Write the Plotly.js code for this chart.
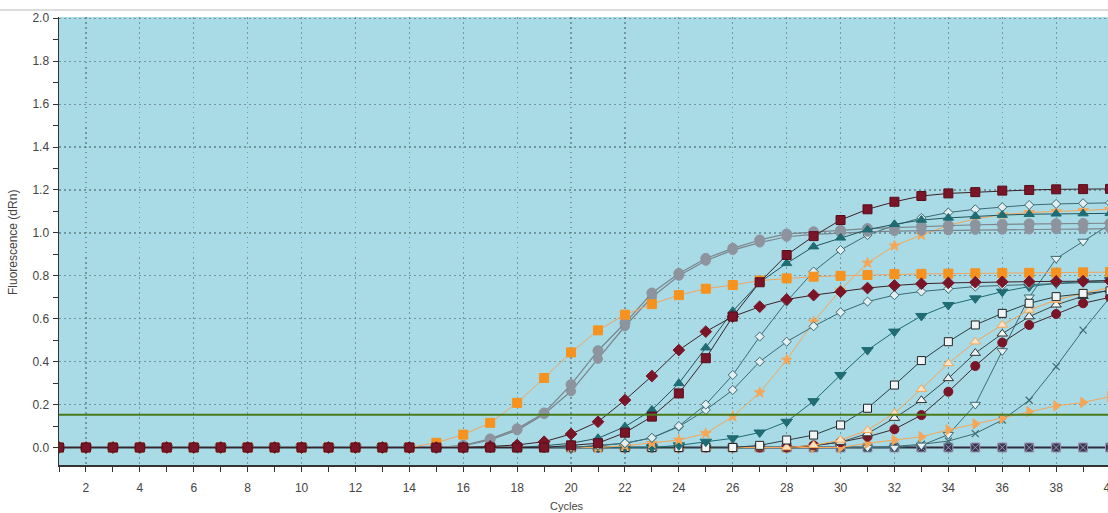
<!DOCTYPE html>
<html>
<head>
<meta charset="utf-8">
<script src="https://cdn.plot.ly/plotly-3.0.1.min.js"></script>
<style>
  html, body { margin: 0; padding: 0; overflow: hidden; background: #ffffff; }
  #chart { width: 1140px; height: 513px; }
</style>
</head>
<body>
<div id="chart"></div>
<script>
// ---- data ----
const cycles = [1,2,3,4,5,6,7,8,9,10,11,12,13,14,15,16,17,18,19,20,21,22,23,24,25,26,27,28,29,30,31,32,33,34,35,36,37,38,39,40];

const ntc         = [0,0,0,0,0,0,0,0,0,0,0,0,0,0,0,0,0,0,0,0,0,0,0,0,0,0,0,0,0,0,0,0,0,0,0,0,0,0,0,0];
const orangeSq    = [0,0,0,0,0,0,0,0,0,0,0,0,0,0,0.022,0.06,0.115,0.208,0.324,0.443,0.546,0.619,0.668,0.71,0.74,0.757,0.778,0.788,0.796,0.8,0.804,0.808,0.809,0.81,0.812,0.813,0.814,0.815,0.816,0.817];
const grayA       = [0,0,0,0,0,0,0,0,0,0,0,0,0,0,0,0.01,0.04,0.087,0.161,0.293,0.451,0.58,0.72,0.811,0.881,0.928,0.967,0.995,1.005,1.012,1.02,1.025,1.03,1.035,1.038,1.04,1.042,1.043,1.044,1.045];
const grayB       = [0,0,0,0,0,0,0,0,0,0,0,0,0,0,0,0.008,0.035,0.08,0.155,0.262,0.413,0.565,0.70,0.8,0.87,0.92,0.955,0.982,0.993,1.0,1.005,1.008,1.01,1.012,1.014,1.015,1.016,1.017,1.018,1.02];
const redDiamond  = [0,0,0,0,0,0,0,0,0,0,0,0,0,0,0,0,0.005,0.012,0.027,0.063,0.12,0.221,0.333,0.454,0.54,0.61,0.656,0.69,0.71,0.726,0.743,0.755,0.763,0.767,0.77,0.772,0.773,0.774,0.775,0.776];
const tealUp      = [0,0,0,0,0,0,0,0,0,0,0,0,0,0,0,0,0,0,0.008,0.02,0.043,0.097,0.175,0.299,0.465,0.635,0.77,0.858,0.936,0.977,1.015,1.04,1.06,1.07,1.078,1.083,1.087,1.089,1.09,1.091];
const redSquare   = [0,0,0,0,0,0,0,0,0,0,0,0,0,0,0,0,0,0,0,0.01,0.02,0.069,0.144,0.252,0.416,0.61,0.77,0.897,0.985,1.06,1.11,1.145,1.172,1.184,1.19,1.197,1.2,1.203,1.204,1.205];
const openDiaA    = [0,0,0,0,0,0,0,0,0,0,0,0,0,0,0,0,0,0,0,0,0.01,0.02,0.045,0.1,0.2,0.338,0.517,0.68,0.82,0.92,0.99,1.035,1.07,1.095,1.11,1.12,1.13,1.135,1.138,1.14];
const openDiaB    = [0,0,0,0,0,0,0,0,0,0,0,0,0,0,0,0,0,0,0,0,0.008,0.02,0.045,0.097,0.175,0.268,0.4,0.493,0.565,0.63,0.68,0.71,0.727,0.74,0.75,0.755,0.76,0.765,0.768,0.77];
const orangeStar  = [0,0,0,0,0,0,0,0,0,0,0,0,0,0,0,0,0,0,0,0,0,0.008,0.02,0.035,0.066,0.144,0.256,0.408,0.586,0.734,0.86,0.94,0.99,1.035,1.065,1.085,1.095,1.1,1.105,1.11];
const tealDown    = [0,0,0,0,0,0,0,0,0,0,0,0,0,0,0,0,0,0,0,0,0,0,0,0.01,0.027,0.043,0.07,0.12,0.216,0.338,0.454,0.54,0.613,0.664,0.695,0.726,0.75,0.765,0.773,0.78];
const openSquare  = [0,0,0,0,0,0,0,0,0,0,0,0,0,0,0,0,0,0,0,0,0,0,0,0,0,0,0.01,0.035,0.058,0.105,0.183,0.291,0.405,0.493,0.571,0.625,0.672,0.703,0.718,0.73];
const orangeTri   = [0,0,0,0,0,0,0,0,0,0,0,0,0,0,0,0,0,0,0,0,0,0,0,0,0,0,0,0,0.01,0.035,0.08,0.16,0.272,0.392,0.493,0.571,0.641,0.687,0.72,0.745];
const darkTri     = [0,0,0,0,0,0,0,0,0,0,0,0,0,0,0,0,0,0,0,0,0,0,0,0,0,0,0,0,0.008,0.025,0.065,0.137,0.22,0.322,0.44,0.53,0.61,0.665,0.705,0.735];
const redCircle   = [0,0,0,0,0,0,0,0,0,0,0,0,0,0,0,0,0,0,0,0,0,0,0,0,0,0,0,0,0.01,0.025,0.05,0.085,0.151,0.26,0.38,0.489,0.571,0.622,0.672,0.70];
const orangeRight = [0,0,0,0,0,0,0,0,0,0,0,0,0,0,0,0,0,0,0,0,0,0,0,0,0,0,0,0,0,0,0.02,0.035,0.05,0.082,0.11,0.136,0.167,0.194,0.21,0.237];
const crossX      = [0,0,0,0,0,0,0,0,0,0,0,0,0,0,0,0,0,0,0,0,0,0,0,0,0,0,0,0,0,0,0,0.005,0.015,0.03,0.065,0.128,0.22,0.377,0.547,0.70];
const openDown    = [0,0,0,0,0,0,0,0,0,0,0,0,0,0,0,0,0,0,0,0,0,0,0,0,0,0,0,0,0,0,0,0,0.01,0.06,0.2,0.45,0.7,0.88,0.96,1.04];

const threshold = 0.153;
const xTickVals = [2,4,6,8,10,12,14,16,18,20,22,24,26,28,30,32,34,36,38,40];
const yTickVals = [0.0,0.2,0.4,0.6,0.8,1.0,1.2,1.4,1.6,1.8,2.0];

// ---- styles ----
const C = {
  orange: '#f7921e', lightOrange: '#f6a656', gray: '#8d949e', darkRed: '#7a1527',
  teal: '#1f6c73', thin: '#3d6a73', dark: '#2c2c3c'
};

function tr(y, symbol, mColor, lColor, size, lineColor, lineWidth, mLineWidth) {
  return {
    x: cycles, y: y, type: 'scatter', mode: 'lines+markers',
    line: { color: lineColor, width: lineWidth },
    marker: { symbol: symbol, size: size, color: mColor,
              line: { color: lColor, width: mLineWidth } },
    hoverinfo: 'skip', showlegend: false
  };
}

const data = [
  tr(ntc,         'square-x',      '#3a3452', '#9a98b0', 9, C.dark, 2, 1),
  tr(crossX,      'x-thin-open',   C.thin, C.thin, 7, C.thin, 1, 1.2),
  tr(openDown,    'triangle-down', '#e8f2f4', C.thin, 9, C.thin, 1, 1),
  tr(orangeRight, 'triangle-right',C.lightOrange, C.lightOrange, 9, C.lightOrange, 1, 1),
  tr(redCircle,   'circle',        C.darkRed, C.darkRed, 9, '#3a2a30', 1, 1),
  tr(darkTri,     'triangle-up',   '#eef3f4', '#333333', 9, '#3a4a50', 1, 1),
  tr(orangeTri,   'triangle-up',   '#f8e2c8', C.lightOrange, 9, C.lightOrange, 1, 1),
  tr(openSquare,  'square',        '#f2f5f6', '#222222', 8, '#2e3e44', 1, 1),
  tr(tealDown,    'triangle-down', C.teal, C.teal, 10, C.teal, 1, 1),
  tr(orangeStar,  'star',          C.lightOrange, C.lightOrange, 8, C.lightOrange, 1, 1),
  tr(openDiaB,    'diamond',       '#e3eef0', C.thin, 7, C.thin, 1, 1),
  tr(openDiaA,    'diamond',       '#e3eef0', C.thin, 7, C.thin, 1, 1),
  tr(grayB,       'circle',        C.gray, C.gray, 9, '#7c848c', 1.2, 1),
  tr(grayA,       'circle',        C.gray, C.gray, 10, '#7c848c', 1.2, 1),
  tr(tealUp,      'triangle-up',   C.teal, C.teal, 9, '#25555c', 1, 1),
  tr(orangeSq,    'square',        C.orange, C.orange, 9, '#f3a460', 1, 1),
  tr(redDiamond,  'diamond',       C.darkRed, C.darkRed, 9, '#3a2328', 1, 1),
  tr(redSquare,   'square',        C.darkRed, '#5a0e1c', 9, '#3a2328', 1, 1)
];

const W = 1140, H = 513, ML = 59, MT = 17, MB = 48;
const plotW = W - ML, plotH = H - MT - MB;
const gridStyle = { showgrid: true, gridcolor: 'rgba(80,105,110,0.6)', griddash: '1.5px,3.5px', gridwidth: 1.2 };

const layout = {
  width: W, height: H,
  margin: { l: ML, r: 0, t: MT, b: MB, pad: 0 },
  paper_bgcolor: '#ffffff',
  plot_bgcolor: '#a8dbe5',
  font: { family: 'Liberation Sans, Arial, sans-serif', size: 12, color: '#3c3c3c' },
  xaxis: Object.assign({
    range: [1, 1 + plotW / 26.95],
    tickmode: 'array', tickvals: xTickVals,
    ticks: 'outside', ticklen: 5, tickcolor: '#333', tickwidth: 1,
    showline: true, linecolor: '#333', linewidth: 1.5,
    zeroline: false, ticklabelstandoff: 6,
    minor: { dtick: 1, tick0: 1, ticks: 'outside', ticklen: 5, tickcolor: '#333', showgrid: false },
    tickfont: { size: 12, color: '#444' }
  }, gridStyle),
  yaxis: Object.assign({
    range: [-0.0815, 2.006],
    tickmode: 'array', tickvals: yTickVals, tickformat: '.1f',
    ticks: 'outside', ticklen: 5, tickcolor: '#333', tickwidth: 1,
    showline: true, linecolor: '#333', linewidth: 1.5,
    zeroline: false, ticklabelstandoff: 1,
    minor: { dtick: 0.1, tick0: 0, ticks: 'outside', ticklen: 5, tickcolor: '#333', showgrid: false },
    tickfont: { size: 12, color: '#444' }
  }, gridStyle),
  shapes: [
    { type: 'line', xref: 'paper', x0: 0, x1: 1, yref: 'y', y0: threshold, y1: threshold,
      line: { color: '#4b7a1e', width: 2 } },
    { type: 'line', xref: 'paper', x0: -ML / plotW, x1: 1, yref: 'paper',
      y0: (plotH + 7) / plotH, y1: (plotH + 7) / plotH,
      line: { color: '#dcdcdc', width: 2 } }
  ],
  annotations: [
    { text: 'Fluorescence (dRn)', xref: 'paper', yref: 'paper',
      x: (13 - ML) / plotW, y: (plotH + MT - 243) / plotH, textangle: -90,
      xanchor: 'center', yanchor: 'middle', showarrow: false,
      font: { size: 12, color: '#444' } },
    { text: 'Cycles', xref: 'paper', yref: 'paper',
      x: (567 - ML) / plotW, y: (plotH + MT - 506) / plotH,
      xanchor: 'center', yanchor: 'middle', showarrow: false,
      font: { size: 11, color: '#444' } }
  ]
};

Plotly.newPlot('chart', data, layout, { staticPlot: true, displayModeBar: false });
</script>
</body>
</html>
